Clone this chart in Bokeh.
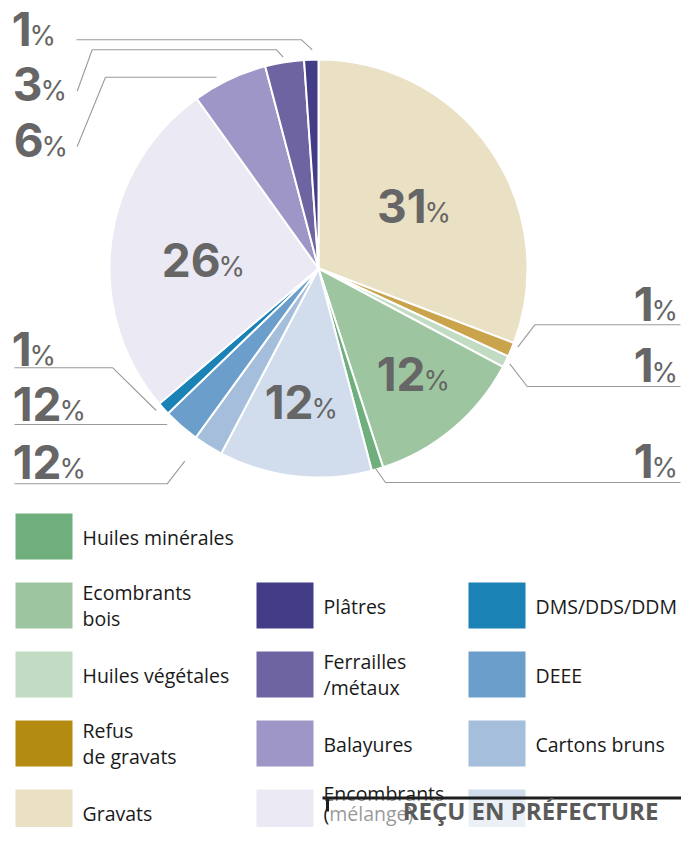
import numpy as np
from bokeh.plotting import figure
from bokeh.models import Range1d, ColumnDataSource
from bokeh.embed import file_html
from bokeh.resources import INLINE
from bokeh.core.properties import value

# ---------------- DATA ----------------
# pie order: clockwise from 12 o'clock
pie_categories = ["Gravats", "Refus de gravats", "Huiles végétales", "Ecombrants bois",
                  "Huiles minérales", "(masqué)", "Cartons bruns", "DEEE", "DMS/DDS/DDM",
                  "Encombrants (mélange)", "Balayures", "Ferrailles/métaux", "Plâtres"]
pie_values = [30.8, 1.1, 0.9, 12.2, 0.9, 11.8, 2.3, 2.8, 1.0, 26.3, 5.8, 3.0, 1.1]
pie_labels = ["31", "1", "1", "12", "1", "12", "12", "12", "1", "26", "6", "3", "1"]

legend_col1 = ["Huiles minérales", "Ecombrants\nbois", "Huiles végétales", "Refus\nde gravats", "Gravats"]
legend_col2 = ["Plâtres", "Ferrailles\n/métaux", "Balayures", "Encombrants\n(mélange)"]
legend_col3 = ["DMS/DDS/DDM", "DEEE", "Cartons bruns", ""]
stamp_text = "REÇU EN PRÉFECTURE"

# ---------------- STYLE / LAYOUT ----------------
pie_colors = ["#EAE0C4", "#C9A44C", "#C2DCC4", "#9DC59F", "#6FAF7E", "#D1DDEC", "#A4BEDB",
              "#6B9ECB", "#1A82B5", "#EBE9F4", "#9E96C6", "#6E64A1", "#433C86"]
col1_colors = ["#6FAF7E", "#9DC59F", "#C2DCC4", "#B48B11", "#EAE0C4"]
col2_colors = ["#433C86", "#6E64A1", "#9E96C6", "#EBE9F4"]
col3_colors = ["#1A82B5", "#6B9ECB", "#A4BEDB", "#D1DDEC"]

H_REF = 843
def Y(y):
    return H_REF - y

CX, CY, R = 318, 268, 209

# label anchor: (right edge of number, baseline) in reference pixel coords
label_pos = [(426, 222), (653, 320), (653, 381.5), (425, 390), (653, 477), (313, 418),
             (61, 478), (61, 420), (31, 365), (220, 276), (43, 156), (42, 100), (31, 45)]
NUM_SIZE, PCT_SIZE = 46, 27
NUM_HALF, PCT_HALF = 16.7, 9.8
PCT_GAP = -2

leaders = [
    [(76, 39.3), (301, 39.3), (311.7, 49.3)],
    [(76.7, 90.7), (91.7, 49.3), (276, 49.3), (282.7, 56.7)],
    [(76.7, 146), (105, 76.7), (216, 76.7)],
    [(680, 324.3), (534.3, 324.3), (517.3, 346.7)],
    [(680, 386), (526.7, 386), (509.3, 363.3)],
    [(680, 482), (385, 482), (375, 468)],
    [(14, 367.3), (112.3, 367.3), (155.7, 410)],
    [(14, 424), (166.7, 424)],
    [(14, 483.3), (166.7, 483.3), (184.3, 460.7)],
]

row_tops = [513, 582, 651, 720, 789]
col_x = [15, 256, 468]
SW_W, SW_H = 57, 46
TXT_DX = 67
LEG_SIZE = 19.5
LEG_HALF = 7.0

p = figure(width=681, height=827, x_range=Range1d(0, 681), y_range=Range1d(16, 843),
           output_backend="svg", toolbar_location=None, min_border=0,
           x_axis_location=None, y_axis_location=None)
p.grid.visible = False
p.outline_line_color = None
p.background_fill_color = "white"
p.border_fill_color = "white"

# ---- pie ----
vals = np.array(pie_values, dtype=float)
frac = vals / vals.sum()
cum = np.concatenate([[0], np.cumsum(frac)])
starts = np.pi / 2 - 2 * np.pi * cum[:-1]
ends = np.pi / 2 - 2 * np.pi * cum[1:]
src = ColumnDataSource(dict(start=starts, end=ends, color=pie_colors, cat=pie_categories))
p.wedge(x=CX, y=Y(CY), radius=R, start_angle="start", end_angle="end", direction="clock",
        fill_color="color", line_color="white", line_width=2, source=src)

# ---- leader lines ----
p.multi_line(xs=[[pt[0] for pt in l] for l in leaders],
             ys=[[Y(pt[1]) for pt in l] for l in leaders],
             line_color="#9a9a9a", line_width=1.1)

# ---- percentage labels ----
nx = [lp[0] for lp in label_pos]
p.text(x=nx, y=[Y(lp[1] - NUM_HALF) for lp in label_pos], text=pie_labels,
       text_font=value("Inter"), text_font_style="bold",
       text_font_size=f"{NUM_SIZE}px", text_color="#666666", text_align="right",
       text_baseline="middle")
p.text(x=[v + PCT_GAP for v in nx], y=[Y(lp[1] - PCT_HALF) for lp in label_pos],
       text=["%"] * len(nx), text_font=value("Inter"),
       text_font_size=f"{PCT_SIZE}px", text_color="#666666", text_align="left",
       text_baseline="middle")

# ---- legend ----
cols = [(legend_col1, col1_colors, 0), (legend_col2, col2_colors, 1), (legend_col3, col3_colors, 1)]
sq_l, sq_r, sq_t, sq_b, sq_c = [], [], [], [], []
tx, ty, tt = [], [], []
for ci, (labels, colors, r0) in enumerate(cols):
    for k, (lab, colr) in enumerate(zip(labels, colors)):
        row = r0 + k
        top = row_tops[row]
        x0 = col_x[ci]
        sq_l.append(x0); sq_r.append(x0 + SW_W)
        sq_t.append(Y(top)); sq_b.append(Y(top + SW_H)); sq_c.append(colr)
        if lab == "":
            continue
        lines = lab.split("\n")
        if len(lines) == 1:
            bases = [top + 31]
        elif row == 4:
            bases = [top + 11, top + 31]
        else:
            bases = [top + 17, top + 43]
        for ln, b in zip(lines, bases):
            tx.append(x0 + TXT_DX); ty.append(Y(b - LEG_HALF)); tt.append(ln)
p.quad(left=sq_l, right=sq_r, top=sq_t, bottom=sq_b, fill_color=sq_c, line_color=None)
p.text(x=tx, y=ty, text=tt, text_font=value("Open Sans"), text_font_size=f"{LEG_SIZE}px",
       text_color="#1a1a1a", text_align="left", text_baseline="middle")

# ---- stamp overlay ----
p.quad(left=[329], right=[697], top=[Y(799)], bottom=[Y(843)], fill_color="white",
       fill_alpha=0.55, line_color=None)
p.segment(x0=[322], y0=[Y(797.5)], x1=[697], y1=[Y(797.5)], line_color="#1e1e1e", line_width=3)
p.segment(x0=[327], y0=[Y(797)], x1=[327], y1=[Y(811)], line_color="#1e1e1e", line_width=3)
p.text(x=[530], y=[Y(810)], text=[stamp_text], text_font=value("Open Sans"),
       text_font_style="bold", text_font_size="24px", text_color="#5a5a5a",
       text_align="center", text_baseline="middle")

open("out.html", "w").write(file_html(p, INLINE))
